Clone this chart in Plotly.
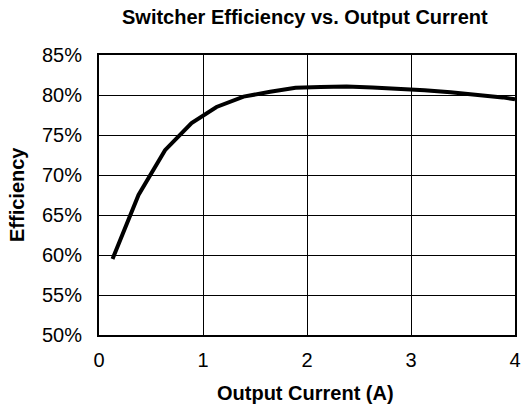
import plotly.graph_objects as go

current = [0.13, 0.38, 0.635, 0.89, 1.13, 1.39, 1.646, 1.89, 2.13, 2.38, 2.63, 2.88, 3.13, 3.38, 3.63, 3.88, 4.0]
efficiency = [59.5, 67.5, 73.1, 76.5, 78.5, 79.8, 80.4, 80.9, 81.0, 81.05, 80.95, 80.8, 80.6, 80.35, 80.05, 79.7, 79.45]

x_ticks = [0, 1, 2, 3, 4]
y_ticks = [50, 55, 60, 65, 70, 75, 80, 85]
y_tick_labels = [f"{v}%" for v in y_ticks]

FONT = "Liberation Sans, Arial, sans-serif"

fig = go.Figure()
fig.add_trace(go.Scatter(x=current, y=efficiency, mode="lines",
                         line=dict(color="black", width=4), showlegend=False,
                         hoverinfo="skip"))

fig.update_layout(
    width=526, height=409,
    margin=dict(l=99, r=5, t=55, b=74),
    paper_bgcolor="white", plot_bgcolor="white",
    font=dict(family=FONT, color="black"),
    annotations=[
        dict(text="<b>Switcher Efficiency vs. Output Current</b>", xref="paper", yref="paper",
             x=0.5, xshift=-2, y=1, yshift=38, showarrow=False, font=dict(size=20),
             xanchor="center", yanchor="middle"),
        dict(text="<b>Output Current (A)</b>", xref="paper", yref="paper",
             x=0.5, xshift=-2, y=0, yshift=-58, showarrow=False, font=dict(size=20),
             xanchor="center", yanchor="middle"),
        dict(text="<b>Efficiency</b>", xref="paper", yref="paper", textangle=-90,
             x=0, xshift=-82, y=0.5, showarrow=False, font=dict(size=20),
             xanchor="center", yanchor="middle"),
    ],
)
fig.update_xaxes(range=[0, 4], tickvals=x_ticks, ticktext=[str(v) for v in x_ticks],
                 showgrid=True, gridcolor="black", gridwidth=1,
                 showline=True, linecolor="black", linewidth=2, mirror=True,
                 ticks="", zeroline=False, tickfont=dict(size=20), ticklabelstandoff=6)
fig.update_yaxes(range=[50, 85], tickvals=y_ticks, ticktext=y_tick_labels,
                 showgrid=True, gridcolor="black", gridwidth=1,
                 showline=True, linecolor="black", linewidth=2, mirror=True,
                 ticks="", zeroline=False, tickfont=dict(size=20), ticklabelstandoff=11)

fig.write_html("out.html", config={"displayModeBar": False},
               post_script="document.body.style.margin='0';")
